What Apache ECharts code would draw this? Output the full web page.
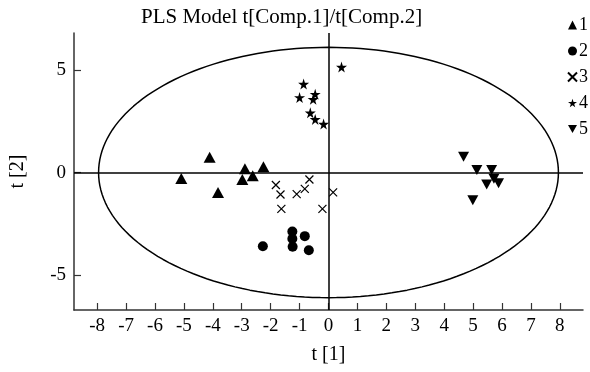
<!DOCTYPE html>
<html>
<head>
<meta charset="utf-8">
<script src="https://cdn.jsdelivr.net/npm/echarts@6/dist/echarts.min.js"></script>
<style>
  html, body { margin: 0; padding: 0; background: #fff; }
  #chart { width: 590px; height: 372px; }
</style>
</head>
<body>
<div id="chart"></div>
<script>
// score points per group, [t1, t2]
const group1 = [[-5.09, -0.29], [-4.11, 0.74], [-3.82, -0.97], [-2.98, -0.34], [-2.89, 0.18], [-2.62, -0.16], [-2.25, 0.28]];
const group2 = [[-2.27, -3.59], [-1.25, -2.87], [-1.25, -3.23], [-1.24, -3.62], [-0.82, -3.1], [-0.68, -3.79]];
const group3 = [[-1.82, -0.61], [-1.66, -1.07], [-1.1, -1.05], [-0.82, -0.8], [-0.66, -0.34], [-1.63, -1.77], [-0.21, -1.77], [0.16, -0.97]];
const group4 = [[-0.86, 4.31], [-1.0, 3.66], [-0.46, 3.82], [-0.53, 3.57], [-0.63, 2.91], [-0.46, 2.59], [-0.17, 2.36], [0.45, 5.14]];
const group5 = [[4.67, 0.77], [5.13, 0.12], [5.64, 0.12], [5.72, -0.3], [5.47, -0.58], [5.88, -0.52], [4.99, -1.35]];
const groupNames = ["1", "2", "3", "4", "5"];
const xTicks = [-8, -7, -6, -5, -4, -3, -2, -1, 0, 1, 2, 3, 4, 5, 6, 7, 8];
const yTicks = [-5, 0, 5];
// Hotelling ellipse half axes
const ellipseRx = 7.95;
const ellipseRy = 6.1;

const font = "'Liberation Serif', 'Times New Roman', serif";
const ink = "#000";

const ellipse = [];
for (let i = 0; i <= 180; i++) {
  const a = (i / 180) * Math.PI * 2;
  ellipse.push([ellipseRx * Math.cos(a), ellipseRy * Math.sin(a)]);
}

const starPath = "path://M50,0L61,35L98,35L68,57L79,91L50,70L21,91L32,57L2,35L39,35Z";
const crossPath = "path://M0,0L10,10M10,0L0,10";
const downPath = "path://M0,0L10,0L5,9Z";

const chart = echarts.init(document.getElementById("chart"));

const scatter = (name, data, symbol, size, style) => ({
  name,
  type: "scatter",
  data,
  symbol,
  symbolSize: size,
  itemStyle: style || { color: ink, opacity: 1 },
  silent: true,
  z: 5,
});

chart.setOption({
  animation: false,
  backgroundColor: "#fff",
  title: {
    text: "PLS Model t[Comp.1]/t[Comp.2]",
    left: 141,
    top: 7,
    padding: 0,
    textStyle: { fontFamily: font, fontSize: 21, fontWeight: "normal", color: ink },
  },
  legend: {
    orient: "vertical",
    left: 567,
    top: 16,
    padding: 0,
    itemGap: 8,
    itemWidth: 9,
    itemHeight: 9,
    data: groupNames,
    textStyle: { fontFamily: font, fontSize: 18, color: ink, padding: [0, 0, 0, -3] },
  },
  grid: { left: 73, right: 7, top: 33, bottom: 62 },
  xAxis: {
    type: "value",
    min: -8.8,
    max: 8.8,
    name: "t [1]",
    nameLocation: "middle",
    nameGap: 35,
    nameTextStyle: { fontFamily: font, fontSize: 20, color: ink },
    axisLine: { onZero: false, lineStyle: { color: "#333", width: 1.5 } },
    axisTick: { inside: true, length: 7, customValues: xTicks, lineStyle: { color: "#333", width: 1.2 } },
    axisLabel: { customValues: xTicks, margin: 7, fontFamily: font, fontSize: 19, color: ink },
    splitLine: { show: false },
  },
  yAxis: {
    type: "value",
    min: -6.7,
    max: 6.8,
    name: "t [2]",
    nameLocation: "middle",
    nameGap: 46,
    nameTextStyle: { fontFamily: font, fontSize: 20, color: ink },
    axisLine: { onZero: false, lineStyle: { color: "#333", width: 1.5 } },
    axisTick: { inside: true, length: 7, customValues: yTicks, lineStyle: { color: "#333", width: 1.2 } },
    axisLabel: { customValues: yTicks, margin: 8, fontFamily: font, fontSize: 19, color: ink },
    splitLine: { show: false },
  },
  series: [
    {
      type: "line",
      data: ellipse,
      symbol: "none",
      silent: true,
      lineStyle: { color: ink, width: 1.5 },
      markLine: {
        silent: true,
        symbol: "none",
        label: { show: false },
        lineStyle: { color: ink, width: 1.5, type: "solid" },
        data: [{ xAxis: 0 }, { yAxis: 0 }],
      },
    },
    scatter("1", group1, "triangle", [12, 11]),
    scatter("2", group2, "circle", 10),
    scatter("3", group3, crossPath, 8, { color: "transparent", borderColor: ink, borderWidth: 1.2, opacity: 1 }),
    scatter("4", group4, starPath, 11),
    scatter("5", group5, downPath, [11, 10]),
  ],
});
</script>
</body>
</html>
